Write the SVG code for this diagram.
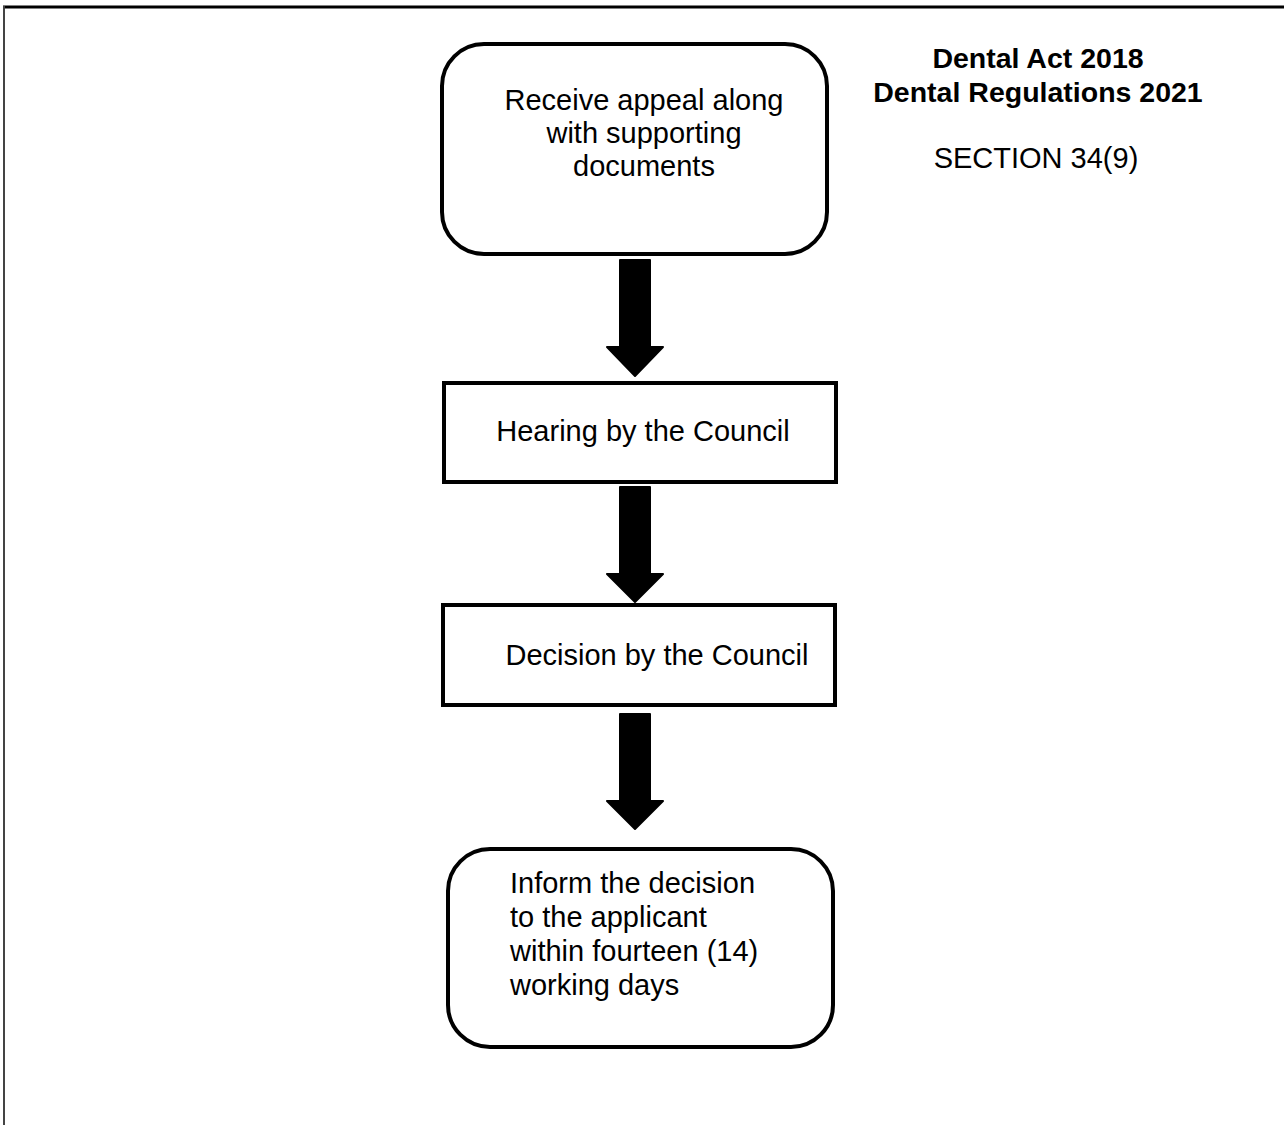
<svg xmlns="http://www.w3.org/2000/svg" width="1284" height="1125" viewBox="0 0 1284 1125">
<style>
.box{fill:#fff;stroke:#000;stroke-width:4}
.t{font-family:"Liberation Sans",Arial,sans-serif;font-size:29px;fill:#000}
.c{text-anchor:middle}
.b{font-weight:bold;font-size:28.5px}
.arr{fill:#000;stroke:#000;stroke-width:2;stroke-linejoin:round}
</style>
<rect width="1284" height="1125" fill="#fff"/>
<g id="frame">
<line x1="3" y1="7" x2="1284" y2="7" stroke="#000" stroke-width="3"/>
<line x1="4" y1="6" x2="4" y2="1125" stroke="#444" stroke-width="2"/>
</g>
<g id="header">
<text class="t c b" x="1038" y="68">Dental Act 2018</text>
<text class="t c b" x="1038" y="102">Dental Regulations 2021</text>
<text class="t c" x="1036" y="168">SECTION 34(9)</text>
</g>
<g id="node1">
<rect class="box" x="442" y="44" width="385" height="210" rx="42" ry="42"/>
<text class="t c" x="644" y="110">Receive appeal along</text>
<text class="t c" x="644" y="143">with supporting</text>
<text class="t c" x="644" y="176">documents</text>
</g>
<g id="node2">
<rect class="box" x="444" y="383" width="392" height="99"/>
<text class="t c" x="643" y="441">Hearing by the Council</text>
</g>
<g id="node3">
<rect class="box" x="443" y="605" width="392" height="100"/>
<text class="t c" x="657" y="665">Decision by the Council</text>
</g>
<g id="node4">
<rect class="box" x="448" y="849" width="385" height="198" rx="42" ry="42"/>
<text class="t" x="510" y="893">Inform the decision</text>
<text class="t" x="510" y="927">to the applicant</text>
<text class="t" x="510" y="961">within fourteen (14)</text>
<text class="t" x="510" y="995">working days</text>
</g>
<g id="connectors">
<path class="arr" d="M620,260 H650 V347 H663 L635,376 L607,347 H620 Z"/>
<path class="arr" d="M620,487 H650 V574 H663 L635,602 L607,574 H620 Z"/>
<path class="arr" d="M620,714 H650 V801 H663 L635,829 L607,801 H620 Z"/>
</g>
</svg>
